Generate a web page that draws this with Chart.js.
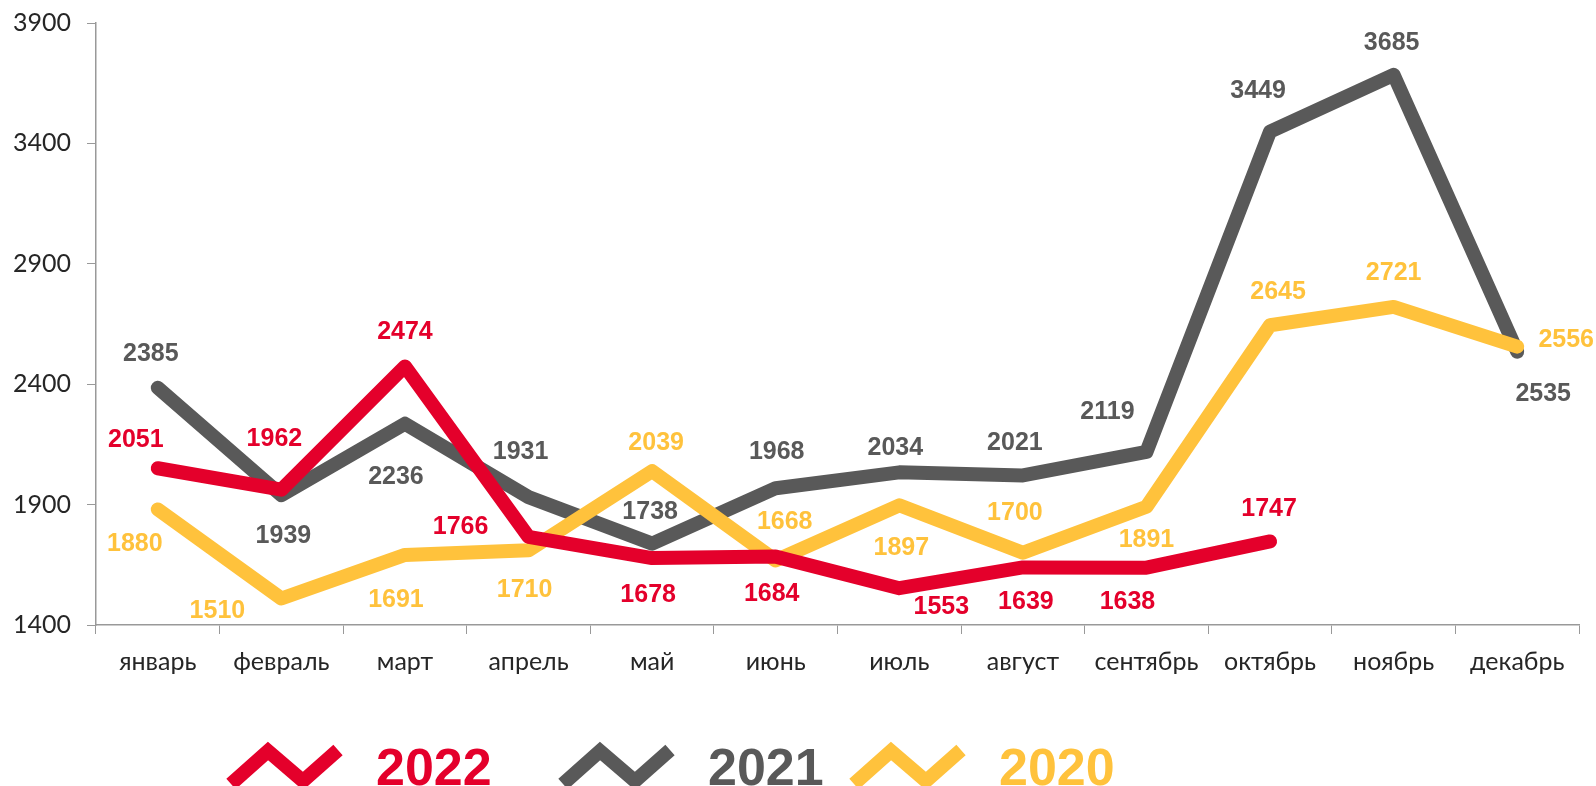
<!DOCTYPE html>
<html>
<head>
<meta charset="utf-8">
<title>2020-2022</title>
<script src="https://cdn.jsdelivr.net/npm/chart.js@4/dist/chart.umd.min.js"></script>
<style>
  html, body { margin: 0; padding: 0; background: #fff; }
  #chart { display: block; }
</style>
</head>
<body>
<canvas id="chart" width="1596" height="786"></canvas>
<script>
// months (x categories)
const months = ['январь', 'февраль', 'март', 'апрель', 'май', 'июнь',
  'июль', 'август', 'сентябрь', 'октябрь', 'ноябрь', 'декабрь'];

// series values
const values2022 = [2051, 1962, 2474, 1766, 1678, 1684, 1553, 1639, 1638, 1747, null, null];
const values2021 = [2385, 1939, 2236, 1931, 1738, 1968, 2034, 2021, 2119, 3449, 3685, 2535];
const values2020 = [1880, 1510, 1691, 1710, 2039, 1668, 1897, 1700, 1891, 2645, 2721, 2556];

// y axis ticks
const yMin = 1400;
const yMax = 3900;
const yStep = 500;

// where each value label sits relative to its point (px)
const labelShift2022 = [[-22, -28], [-7, -51], [0, -34], [-68, -10], [-4, 37], [-4, 37],
  [42, 19], [3, 35], [-19, 34], [-1, -32], null, null];
const labelShift2021 = [[-7, -34], [2, 41], [-9, 53], [-8, -45], [-2, -32], [1, -36],
  [-4, -24], [-8, -32], [-39, -40], [-12, -40], [-2, -32], [26, 42]];
const labelShift2020 = [[-23, 35], [-64, 13], [-9, 45], [-4, 40], [4, -28], [9, -38],
  [2, 43], [-8, -40], [0, 33], [8, -33], [0, -34], [49, -7]];

const RED = '#e4002b';
const GREY = '#595959';
const YELLOW = '#ffc23c';

const axisFont = { family: 'Lato, "Open Sans", sans-serif', size: 25 };
const axisColor = '#999999';

// value labels next to the points
const valueLabels = {
  id: 'valueLabels',
  afterDatasetsDraw(chart) {
    const ctx = chart.ctx;
    ctx.save();
    ctx.font = 'bold 25px "Liberation Sans", Arial, sans-serif';
    ctx.textAlign = 'center';
    ctx.textBaseline = 'middle';
    chart.data.datasets.forEach((ds, i) => {
      const meta = chart.getDatasetMeta(i);
      ds.data.forEach((v, j) => {
        if (v == null) return;
        const pt = meta.data[j];
        const s = ds.labelShift[j];
        ctx.fillStyle = ds.borderColor;
        ctx.fillText(String(v), pt.x + s[0], pt.y + s[1]);
      });
    });
    ctx.restore();
  }
};

// big zigzag legend under the chart
const zigzagLegend = {
  id: 'zigzagLegend',
  afterDraw(chart) {
    const ctx = chart.ctx;
    const items = [
      { ds: 0, x: 227 },
      { ds: 1, x: 559 },
      { ds: 2, x: 850 }
    ];
    ctx.save();
    items.forEach(it => {
      const ds = chart.data.datasets[it.ds];
      ctx.strokeStyle = ds.borderColor;
      ctx.lineWidth = 14;
      ctx.lineJoin = 'miter';
      ctx.lineCap = 'butt';
      ctx.beginPath();
      ctx.moveTo(it.x + 4, 784);
      ctx.lineTo(it.x + 41, 751);
      ctx.lineTo(it.x + 76, 781);
      ctx.lineTo(it.x + 111, 750);
      ctx.stroke();
      ctx.fillStyle = ds.borderColor;
      ctx.font = 'bold 52px "Liberation Sans", Arial, sans-serif';
      ctx.textAlign = 'left';
      ctx.textBaseline = 'alphabetic';
      ctx.fillText(ds.label, it.x + 149, 785);
    });
    ctx.restore();
  }
};

const whiteBg = {
  id: 'whiteBg',
  beforeDraw(chart) {
    const ctx = chart.ctx;
    ctx.save();
    ctx.fillStyle = '#ffffff';
    ctx.fillRect(0, 0, chart.width, chart.height);
    ctx.restore();
  }
};

const lineStyle = {
  borderWidth: 14,
  pointRadius: 0,
  pointHoverRadius: 0,
  tension: 0,
  borderCapStyle: 'round',
  borderJoinStyle: 'round',
  fill: false,
  spanGaps: false
};

new Chart(document.getElementById('chart'), {
  type: 'line',
  data: {
    labels: months,
    datasets: [
      Object.assign({ label: '2022', data: values2022, borderColor: RED, backgroundColor: RED,
        labelShift: labelShift2022, order: 0 }, lineStyle),
      Object.assign({ label: '2021', data: values2021, borderColor: GREY, backgroundColor: GREY,
        labelShift: labelShift2021, order: 2 }, lineStyle),
      Object.assign({ label: '2020', data: values2020, borderColor: YELLOW, backgroundColor: YELLOW,
        labelShift: labelShift2020, order: 1 }, lineStyle)
    ]
  },
  options: {
    responsive: false,
    animation: false,
    devicePixelRatio: 1,
    layout: { padding: { top: 23, right: 17, left: 0, bottom: 0 } },
    plugins: {
      legend: { display: false },
      tooltip: { enabled: false }
    },
    scales: {
      x: {
        offset: true,
        grid: { display: true, drawOnChartArea: false, drawTicks: true, tickLength: 9, color: axisColor, offset: true },
        border: { display: true, color: axisColor, width: 1.5 },
        ticks: { font: axisFont, color: '#262626', padding: 13, maxRotation: 0, autoSkip: false },
        afterFit(scale) {
          scale.height = 161;
          scale.paddingLeft = 0;
          scale.paddingRight = 0;
        }
      },
      y: {
        min: yMin,
        max: yMax,
        grid: { display: true, drawOnChartArea: false, drawTicks: true, tickLength: 9, color: axisColor },
        border: { display: true, color: axisColor, width: 1.5 },
        ticks: { stepSize: yStep, font: axisFont, color: '#262626', padding: 16,
          callback: (v) => String(v) },
        afterFit(scale) {
          scale.width = 96;
          scale.paddingTop = 0;
          scale.paddingBottom = 0;
        }
      }
    }
  },
  plugins: [whiteBg, valueLabels, zigzagLegend]
});
</script>
</body>
</html>
